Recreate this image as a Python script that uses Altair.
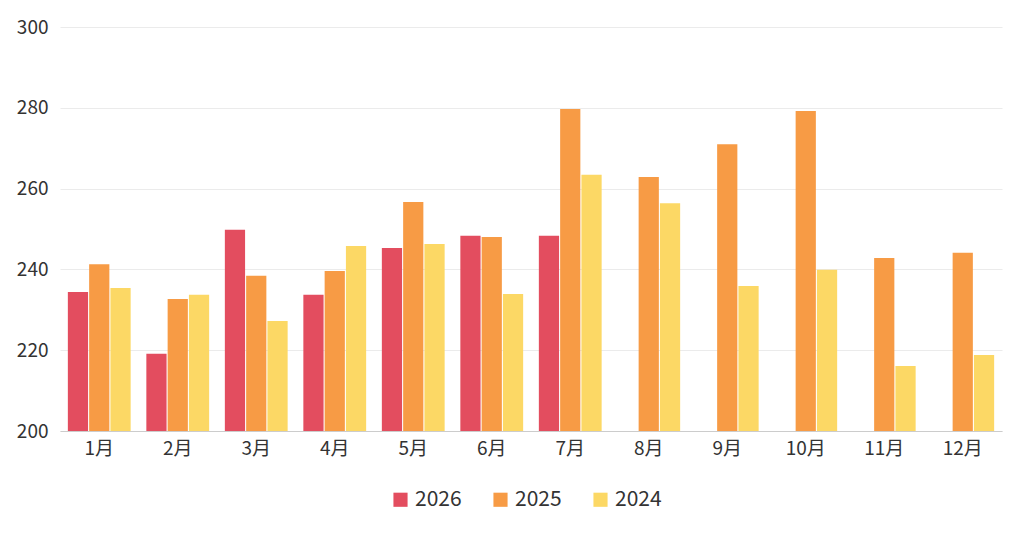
import pandas as pd
import altair as alt

months = [f"{i}月" for i in range(1, 13)]
years = ["2026", "2025", "2024"]
v2026 = [234.4, 219.1, 249.8, 233.7, 245.3, 248.3, 248.3, None, None, None, None, None]
v2025 = [241.3, 232.7, 238.4, 239.6, 256.7, 248.0, 279.7, 262.9, 271.0, 279.2, 242.8, 244.1]
v2024 = [235.4, 233.7, 227.2, 245.8, 246.3, 233.9, 263.4, 256.4, 235.9, 239.9, 216.1, 218.8]

rows = []
for year, vals in zip(years, [v2026, v2025, v2024]):
    for m, v in zip(months, vals):
        if v is not None:
            rows.append({"month": m, "year": year, "value": v})
df = pd.DataFrame(rows)

font = "Noto Sans CJK SC"
chart = alt.Chart(df).mark_bar(clip=True).encode(
    x=alt.X("month:N", sort=months, title=None,
            scale=alt.Scale(domain=months, paddingInner=0.2, paddingOuter=0.1),
            axis=alt.Axis(labelAngle=0, labelFontSize=19, labelColor="#333", labelPadding=8,
                          domainColor="#ccc", ticks=False, labelFont=font)),
    xOffset=alt.XOffset("year:N", sort=years, scale=alt.Scale(domain=years, paddingInner=0.05)),
    y=alt.Y("value:Q", title=None,
            scale=alt.Scale(domain=[200, 300], nice=False, zero=False),
            axis=alt.Axis(values=[200, 220, 240, 260, 280, 300], labelFontSize=19, labelColor="#333",
                          domain=False, ticks=False, gridColor="#ebebeb", labelPadding=12, labelFont=font)),
    color=alt.Color("year:N", sort=years, title=None,
                    scale=alt.Scale(domain=years, range=["#e34d5f", "#f79b45", "#fcd865"]),
                    legend=alt.Legend(orient="none", legendX=330, legendY=462, direction="horizontal",
                                      symbolType="square", symbolSize=200, labelFontSize=21,
                                      labelColor="#333", columnPadding=28, labelFont=font)),
).properties(width=942, height=404, padding={"left": 8, "top": 10, "right": 18, "bottom": 10}
).configure_view(stroke=None)

chart.save("out.html", embed_options={"renderer": "svg", "actions": False})
